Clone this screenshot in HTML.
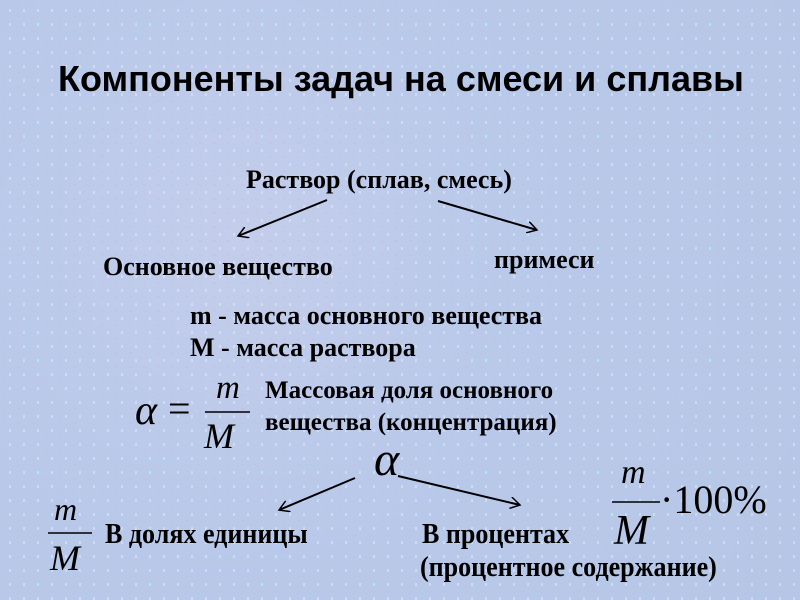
<!DOCTYPE html>
<html><head><meta charset="utf-8"><style>
body{margin:0}
#c{position:relative;width:800px;height:600px;overflow:hidden;
background:radial-gradient(circle at 30% 40%,#c4cdeb 0,#b9c9ea 40%,#b5c6e6 100%);font-family:"Liberation Serif",serif;color:#000}
.t{position:absolute;white-space:nowrap;font-weight:bold;line-height:1}
.i{position:absolute;white-space:nowrap;font-style:italic;line-height:1;font-family:"Liberation Serif",serif}
.n{transform-origin:0 0;transform:scaleX(.93)}
</style></head><body><div id="c">
<svg width="800" height="600" style="position:absolute;left:0;top:0">
<defs><pattern id="p" width="14" height="14" patternUnits="userSpaceOnUse">
<rect x="3" y="2" width="3" height="2" fill="#d4b9da" opacity=".5"/><rect x="9" y="9" width="2" height="3" fill="#e0e6f6" opacity=".6"/></pattern>
<marker id="a" markerWidth="12" markerHeight="12" refX="10" refY="6" orient="auto" markerUnits="userSpaceOnUse"><path d="M0,0 L10,6 L0,12" fill="none" stroke="#000" stroke-width="1.5"/></marker></defs>
<rect width="800" height="600" fill="url(#p)"/>
<g stroke="#000" stroke-width="2" marker-end="url(#a)" fill="none">
<line x1="327" y1="200" x2="238" y2="236"/>
<line x1="438" y1="201" x2="537" y2="230"/>
<line x1="355" y1="478" x2="279" y2="510"/>
<line x1="398" y1="476" x2="520" y2="505"/>
</g>
<g stroke="#000" stroke-width="1.6">
<line x1="205" y1="412" x2="250" y2="412"/>
<line x1="48" y1="533" x2="92" y2="533"/>
<line x1="612" y1="502" x2="660" y2="502"/>
</g>
</svg>
<div class="t" style="left:58px;top:61px;font-family:'Liberation Sans',sans-serif;font-size:36px">Компоненты задач на смеси и сплавы</div>
<div class="t" style="left:246px;top:167px;font-size:26px">Раствор (сплав, смесь)</div>
<div class="t" style="left:103px;top:254px;font-size:26px">Основное вещество</div>
<div class="t" style="left:494px;top:247px;font-size:26px">примеси</div>
<div class="t" style="left:190px;top:303px;font-size:26px">m - масса основного вещества</div>
<div class="t" style="left:190px;top:335px;font-size:26px">M - масса раствора</div>
<div class="i" style="left:135px;top:390px;font-size:42px">α</div>
<div class="t" style="left:168px;top:389px;font-size:40px;font-weight:normal">=</div>
<div class="i" style="left:216px;top:372px;font-size:33px">m</div>
<div class="i" style="left:204px;top:418px;font-size:36px">M</div>
<div class="t" style="left:265px;top:378px;font-size:25px">Массовая доля основного</div>
<div class="t" style="left:265px;top:410px;font-size:25px">вещества (концентрация)</div>
<div class="i" style="left:374px;top:436px;font-size:48px">α</div>
<div class="i" style="left:54px;top:493px;font-size:32px">m</div>
<div class="i" style="left:50px;top:540px;font-size:36px">M</div>
<div class="t n" style="left:105px;top:521px;font-size:28px">В долях единицы</div>
<div class="t n" style="left:422px;top:521px;font-size:28px">В процентах</div>
<div class="t n" style="left:420px;top:554px;font-size:28px">(процентное содержание)</div>
<div class="i" style="left:621px;top:456px;font-size:34px">m</div>
<div class="i" style="left:614px;top:510px;font-size:42px">M</div>
<div class="t" style="left:660px;top:480px;font-size:40px;font-weight:normal">·100%</div>
</div></body></html>
